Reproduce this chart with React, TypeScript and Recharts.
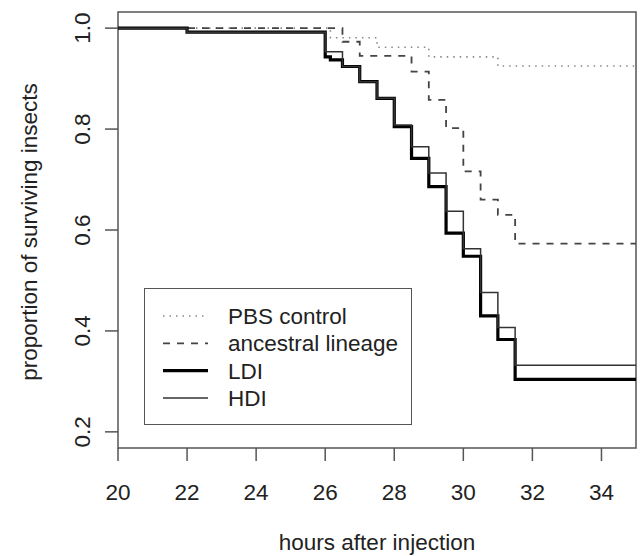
import {
  Label,
  Legend,
  Line,
  LineChart,
  ReferenceArea,
  XAxis,
  YAxis,
} from 'recharts'

// Kaplan-Meier step points (time in hours, survival proportion)
const pbsTimes = [20, 26.15, 27.5, 29, 31, 35]
const pbsSurvival = [1, 0.981, 0.962, 0.943, 0.925, 0.925]

const ancestralTimes = [20, 26.5, 27, 28.5, 29, 29.5, 30, 30.5, 31, 31.5, 35]
const ancestralSurvival = [1, 0.973, 0.945, 0.914, 0.858, 0.802, 0.716, 0.66, 0.63, 0.573, 0.573]

const ldiTimes = [20, 22, 26, 26.15, 26.5, 27, 27.5, 28, 28.5, 29, 29.5, 30, 30.5, 31, 31.5, 35]
const ldiSurvival = [1, 0.992, 0.943, 0.937, 0.924, 0.894, 0.861, 0.805, 0.742, 0.686, 0.594, 0.548, 0.43, 0.383, 0.304, 0.304]

const hdiTimes = [20, 22, 26, 26.15, 26.5, 27, 27.5, 28, 28.5, 29, 29.5, 30, 30.5, 31, 31.5, 35]
const hdiSurvival = [1, 0.992, 0.953, 0.953, 0.924, 0.894, 0.861, 0.808, 0.765, 0.713, 0.637, 0.563, 0.476, 0.407, 0.332, 0.332]

const xTicks = [20, 22, 24, 26, 28, 30, 32, 34]
const yTicks = [0.2, 0.4, 0.6, 0.8, 1.0]

const FONT = '"Liberation Sans", Arial, sans-serif'
const FONT_SIZE = 22.5
const AXIS_COLOR = '#555'
const TEXT_COLOR = '#222'

const toPoints = (times: number[], values: number[]) =>
  times.map((t, i) => ({ t, s: values[i] }))

const series = [
  { name: 'PBS control', data: toPoints(pbsTimes, pbsSurvival), stroke: '#888', width: 1.6, dash: '1.5 5' },
  { name: 'ancestral lineage', data: toPoints(ancestralTimes, ancestralSurvival), stroke: '#444', width: 1.8, dash: '7 7' },
  { name: 'LDI', data: toPoints(ldiTimes, ldiSurvival), stroke: '#000', width: 3.2, dash: undefined },
  { name: 'HDI', data: toPoints(hdiTimes, hdiSurvival), stroke: '#333', width: 1.5, dash: undefined },
]

function YTick({ x, y, payload }: any) {
  const bx = x - 15
  return (
    <text
      x={bx}
      y={y}
      transform={`rotate(-90, ${bx}, ${y})`}
      textAnchor='middle'
      fill={TEXT_COLOR}
      fontSize={FONT_SIZE}
      fontFamily={FONT}
    >
      {payload.value.toFixed(1)}
    </text>
  )
}

function YTitle() {
  return (
    <text
      x={37}
      y={232}
      transform='rotate(-90, 37, 232)'
      textAnchor='middle'
      fill={TEXT_COLOR}
      fontSize={FONT_SIZE}
      fontFamily={FONT}
    >
      proportion of surviving insects
    </text>
  )
}

function LegendBox() {
  return (
    <div
      style={{
        width: 268,
        height: 137,
        boxSizing: 'border-box',
        border: `1.5px solid ${AXIS_COLOR}`,
        background: '#fff',
      }}
    >
      <svg width={265} height={134}>
        {series.map((s, i) => {
          const cy = 27 + i * 27.3
          return (
            <g key={s.name}>
              <line
                x1={18}
                x2={63}
                y1={cy}
                y2={cy}
                stroke={s.stroke}
                strokeWidth={s.width}
                strokeDasharray={s.dash}
              />
              <text
                x={83}
                y={cy + 8}
                fill={TEXT_COLOR}
                fontSize={FONT_SIZE}
                fontFamily={FONT}
              >
                {s.name}
              </text>
            </g>
          )
        })}
      </svg>
    </div>
  )
}

export default function App() {
  return (
    <div style={{ width: 640, height: 556, fontFamily: FONT, background: '#fff' }}>
      <style>{'body { margin: 0; }'}</style>
      <LineChart
        width={640}
        height={556}
        margin={{ top: 12, right: 4, left: 0, bottom: 0 }}
      >
        <XAxis
          dataKey='t'
          type='number'
          domain={[20, 35]}
          ticks={xTicks}
          allowDataOverflow
          height={108}
          axisLine={false}
          tickLine={{ stroke: AXIS_COLOR, strokeWidth: 1.5 }}
          tickSize={13}
          tickMargin={23}
          tick={{ fill: TEXT_COLOR, fontSize: FONT_SIZE, fontFamily: FONT }}
        >
          <Label
            value='hours after injection'
            position='insideBottom'
            offset={6}
            fill={TEXT_COLOR}
            fontSize={FONT_SIZE}
            fontFamily={FONT}
          />
        </XAxis>
        <YAxis
          type='number'
          domain={[0.168, 1.032]}
          ticks={yTicks}
          allowDataOverflow
          width={118}
          axisLine={false}
          tickLine={{ stroke: AXIS_COLOR, strokeWidth: 1.5 }}
          tickSize={13}
          tickMargin={0}
          tick={<YTick />}
        >
          <Label content={<YTitle />} />
        </YAxis>
        <ReferenceArea
          x1={20}
          x2={35}
          y1={0.168}
          y2={1.032}
          fill='none'
          stroke={AXIS_COLOR}
          strokeWidth={1.5}
          ifOverflow='visible'
        />
        {series.map((s) => (
          <Line
            key={s.name}
            name={s.name}
            data={s.data}
            dataKey='s'
            type='stepAfter'
            stroke={s.stroke}
            strokeWidth={s.width}
            strokeDasharray={s.dash}
            dot={false}
            activeDot={false}
            isAnimationActive={false}
          />
        ))}
        <Legend
          layout='vertical'
          align='center'
          verticalAlign='middle'
          content={<LegendBox />}
          wrapperStyle={{ left: 144, top: 288, width: 268, height: 137 }}
        />
      </LineChart>
    </div>
  )
}
